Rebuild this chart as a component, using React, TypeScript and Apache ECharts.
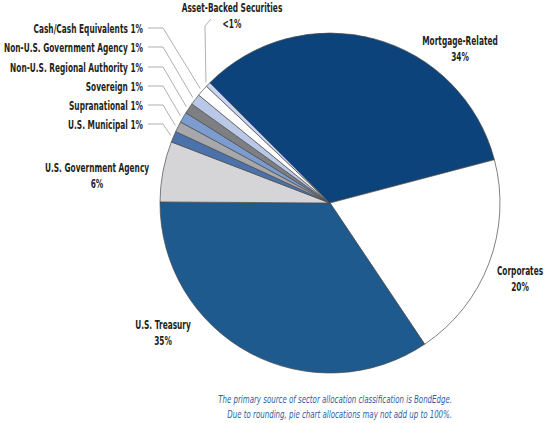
import React, { useEffect, useRef } from 'react';
import * as echarts from 'echarts';

const sectors = [
  'Mortgage-Related',
  'Corporates',
  'U.S. Treasury',
  'U.S. Government Agency',
  'U.S. Municipal',
  'Supranational',
  'Sovereign',
  'Non-U.S. Regional Authority',
  'Non-U.S. Government Agency',
  'Cash/Cash Equivalents',
  'Asset-Backed Securities',
];
const values = [33.4, 19.7, 34.5, 5.75, 1.05, 1.0, 1.0, 1.0, 1.05, 1.1, 0.45];
const pctLabels = ['34%', '20%', '35%', '6%', '1%', '1%', '1%', '1%', '1%', '1%', '<1%'];
const colors = [
  '#0b437a', '#ffffff', '#1e5a8e', '#d5d5d7', '#4b72ab', '#a6a8ab',
  '#7c9cd0', '#7e7f82', '#b9c8e7', '#ffffff', '#c9d5ee',
];
const footnotes = [
  'The primary source of sector allocation classification is BondEdge.',
  'Due to rounding, pie chart allocations may not add up to 100%.',
];

const CX = 330;
const CY = 203;
const R = 170;
const FONT = "'DejaVu Sans', sans-serif";

type Lay = { x: number; y: number; align: string; two: boolean; line?: number[][] };
const layouts: Lay[] = [
  { x: 460, y: 48, align: 'center', two: true },
  { x: 520, y: 278, align: 'center', two: true },
  { x: 163, y: 332, align: 'center', two: true },
  { x: 97, y: 175, align: 'center', two: true },
  { x: 143, y: 124, align: 'right', two: false, line: [[163, 124], [148, 124]] },
  { x: 143, y: 105, align: 'right', two: false, line: [[163, 105], [148, 105]] },
  { x: 143, y: 86, align: 'right', two: false, line: [[163, 86], [148, 86]] },
  { x: 143, y: 67, align: 'right', two: false, line: [[163, 67], [148, 67]] },
  { x: 143, y: 47, align: 'right', two: false, line: [[163, 47], [148, 47]] },
  { x: 143, y: 28, align: 'right', two: false, line: [[163, 28], [148, 28]] },
  { x: 232, y: 15, align: 'center', two: true, line: [[205, 26], [211, 19]] },
];

export default function App() {
  const ref = useRef<HTMLDivElement>(null);
  useEffect(() => {
    document.body.style.margin = '0';
    const chart = echarts.init(ref.current!, null, { renderer: 'svg' });
    const total = values.reduce((a, b) => a + b, 0);
    const startAngle = 135;
    const mid: number[] = [];
    let acc = 0;
    values.forEach((v) => {
      const a0 = startAngle - (acc / total) * 360;
      acc += v;
      const a1 = startAngle - (acc / total) * 360;
      mid.push((a0 + a1) / 2);
    });
    const edge = (i: number, extra: number) => {
      const a = (mid[i] * Math.PI) / 180;
      return [CX + (R + extra) * Math.cos(a), CY - (R + extra) * Math.sin(a)];
    };

    const graphics: any[] = [];
    sectors.forEach((name, i) => {
      const L = layouts[i];
      if (L.line) {
        graphics.push({
          type: 'polyline',
          silent: true,
          shape: { points: [edge(i, 3), ...L.line] },
          style: { stroke: '#9a9a9a', lineWidth: 0.8, fill: null },
        });
      }
      graphics.push({
        type: 'text',
        x: L.x,
        y: L.y,
        scaleX: 0.57,
        silent: true,
        style: {
          text: L.two ? `${name}\n${pctLabels[i]}` : `${name} ${pctLabels[i]}`,
          fontFamily: FONT,
          fontWeight: 'bold',
          fontSize: 13,
          lineHeight: 16,
          fill: '#231f20',
          align: L.align,
          textAlign: L.align,
          verticalAlign: 'middle',
          textVerticalAlign: 'middle',
        },
      });
    });
    footnotes.forEach((t, k) => {
      graphics.push({
        type: 'text',
        x: 452,
        y: 399 + k * 15,
        scaleX: 0.64,
        silent: true,
        style: {
          text: t,
          fontFamily: FONT,
          fontStyle: 'italic',
          fontSize: 11,
          fill: '#2d5e9c',
          align: 'right',
          textAlign: 'right',
          verticalAlign: 'middle',
          textVerticalAlign: 'middle',
        },
      });
    });

    chart.setOption({
      animation: false,
      backgroundColor: '#ffffff',
      series: [
        {
          type: 'pie',
          center: [CX, CY],
          radius: [0, R],
          startAngle,
          clockwise: true,
          avoidLabelOverlap: false,
          itemStyle: { borderColor: '#4a4a4a', borderWidth: 0.7 },
          emphasis: { disabled: true },
          label: { show: false },
          labelLine: { show: false },
          data: sectors.map((name, i) => ({
            name,
            value: values[i],
            itemStyle: { color: colors[i] },
          })),
        },
      ],
      graphic: graphics,
    });
    return () => chart.dispose();
  }, []);
  return <div ref={ref} style={{ width: 544, height: 423 }} />;
}
